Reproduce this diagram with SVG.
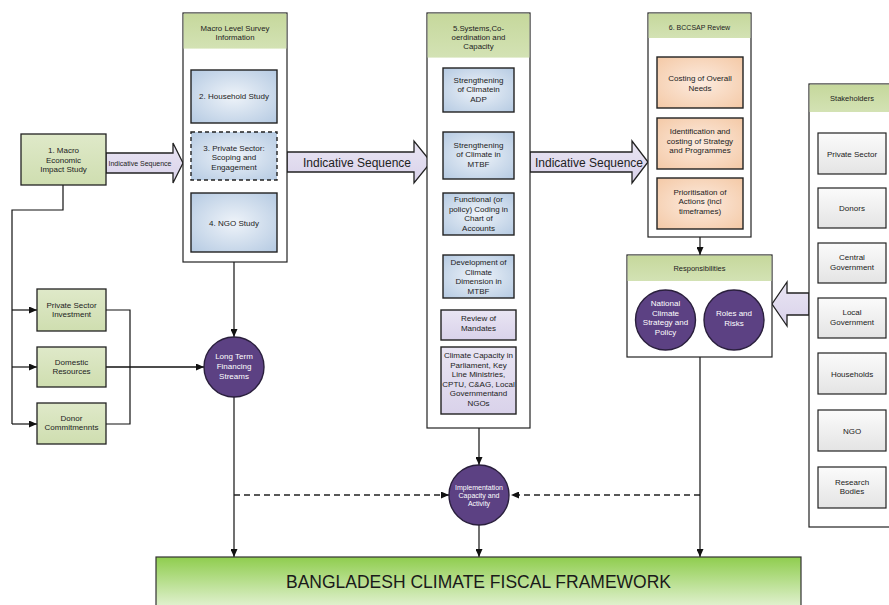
<svg xmlns="http://www.w3.org/2000/svg" width="889" height="605" viewBox="0 0 889 605">
<defs>
<linearGradient id="gGreen" x1="0" y1="0" x2="0" y2="1"><stop offset="0" stop-color="#dfe9c9"/><stop offset="1" stop-color="#cfdeb0"/></linearGradient>
<linearGradient id="gHead" x1="0" y1="0" x2="0" y2="1"><stop offset="0" stop-color="#c6d89c"/><stop offset="1" stop-color="#d3e2b4"/></linearGradient>
<radialGradient id="gBlue" cx="0.5" cy="0.5" r="0.7"><stop offset="0" stop-color="#eef3f9"/><stop offset="1" stop-color="#b5cae2"/></radialGradient>
<radialGradient id="gOrange" cx="0.5" cy="0.5" r="0.7"><stop offset="0" stop-color="#fcebdf"/><stop offset="1" stop-color="#f4c9a6"/></radialGradient>
<linearGradient id="gLav" x1="0" y1="0" x2="0" y2="1"><stop offset="0" stop-color="#e9e5f3"/><stop offset="1" stop-color="#d9d2ea"/></linearGradient>
<linearGradient id="gGrey" x1="0" y1="0" x2="0" y2="1"><stop offset="0" stop-color="#fbfbfb"/><stop offset="1" stop-color="#e4e4e4"/></linearGradient>
<linearGradient id="gMain" x1="0" y1="0" x2="0" y2="1"><stop offset="0" stop-color="#8fcd4e"/><stop offset="1" stop-color="#eaf5de"/></linearGradient>
<marker id="ah" viewBox="0 0 8 7" refX="8" refY="3.5" markerWidth="8" markerHeight="7" markerUnits="userSpaceOnUse" orient="auto-start-reverse"><path d="M0,0 L8,3.5 L0,7 z" fill="#111"/></marker>
</defs>
<style>
text{font-family:"Liberation Sans",Arial,sans-serif;fill:#222;text-anchor:middle}
.t{font-size:8px}
.ts{font-size:7px}
.th{font-size:7.8px}
.w{fill:#fff}
.outer{fill:#fff;stroke:#222;stroke-width:1.2}
.band{fill:url(#gHead)}
.gbox{fill:url(#gGreen);stroke:#222;stroke-width:1.3}
.bbox{fill:url(#gBlue);stroke:#222;stroke-width:1.4}
.obox{fill:url(#gOrange);stroke:#222;stroke-width:1.4}
.lbox{fill:url(#gLav);stroke:#222;stroke-width:1.4}
.sbox{fill:url(#gGrey);stroke:#222;stroke-width:1.2}
.circ{fill:#5c4183;stroke:#2a1f3d;stroke-width:1.4}
.arw{fill:url(#gLav);stroke:#222;stroke-width:1.3}
.ln{fill:none;stroke:#111;stroke-width:1.2}
.dl{fill:none;stroke:#222;stroke-width:1.4;stroke-dasharray:6,4}
</style>

<g id="connectors">
<polyline class="ln" points="63,185 63,210 12,210 12,424"/>
<line class="ln" x1="12" y1="310" x2="37" y2="310" marker-end="url(#ah)"/>
<line class="ln" x1="12" y1="367" x2="37" y2="367" marker-end="url(#ah)"/>
<line class="ln" x1="12" y1="424" x2="37" y2="424" marker-end="url(#ah)"/>
<polyline class="ln" points="106,310 130,310 130,424 106,424"/>
<line class="ln" x1="106" y1="367" x2="204" y2="367" marker-end="url(#ah)" style="stroke-width:1.6"/>
<line class="ln" x1="234" y1="262" x2="234" y2="337" marker-end="url(#ah)"/>
<line class="ln" x1="234" y1="397" x2="234" y2="557" marker-end="url(#ah)"/>
<line class="dl" x1="234" y1="495" x2="449" y2="495" marker-end="url(#ah)"/>
<line class="dl" x1="700" y1="495" x2="511" y2="495" marker-end="url(#ah)"/>
<line class="ln" x1="479" y1="428" x2="479" y2="465" marker-end="url(#ah)"/>
<line class="ln" x1="479" y1="525" x2="479" y2="557" marker-end="url(#ah)"/>
<line class="ln" x1="700" y1="237" x2="700" y2="255" marker-end="url(#ah)"/>
<line class="ln" x1="700" y1="357" x2="700" y2="557" marker-end="url(#ah)"/>
<line class="ln" x1="479" y1="112" x2="479" y2="132" marker-start="url(#ah)" marker-end="url(#ah)" style="stroke-width:1.6"/>
<line class="ln" x1="479" y1="235" x2="479" y2="255" marker-start="url(#ah)" marker-end="url(#ah)" style="stroke-width:1.6"/>
</g>

<g id="arrow1">
<path class="arw" d="M106,153 H173 V143 L183,163 L173,183 V173 H106 Z"/>
<text class="ts" x="140" y="165.5">Indicative Sequence</text>
</g>
<g id="arrow2">
<path class="arw" d="M287,152 H414 V141 L431,162 L414,183 V172 H287 Z"/>
<text x="357" y="166.5" style="font-size:12px">Indicative Sequence</text>
</g>
<g id="arrow3">
<path class="arw" d="M530,152 H632 V141 L648,162 L632,183 V172 H530 Z"/>
<text x="589" y="166.5" style="font-size:12px">Indicative Sequence</text>
</g>
<g id="arrow4">
<path class="arw" d="M809,293 H787 V282 L772,304 L787,326 V315 H809 Z"/>
</g>

<g id="macro">
<rect class="gbox" x="21" y="134" width="85" height="51"/>
<text class="t" x="63.5" y="153">1. Macro</text>
<text class="t" x="63.5" y="162.5">Economic</text>
<text class="t" x="63.5" y="172">Impact Study</text>
</g>

<g id="private-investment">
<rect class="gbox" x="37" y="289" width="69" height="42"/>
<text class="t" x="71.5" y="307.5">Private Sector</text>
<text class="t" x="71.5" y="317">Investment</text>
</g>
<g id="domestic">
<rect class="gbox" x="37" y="347" width="69" height="40"/>
<text class="t" x="71.5" y="364.5">Domestic</text>
<text class="t" x="71.5" y="374">Resources</text>
</g>
<g id="donor">
<rect class="gbox" x="37" y="403" width="69" height="41"/>
<text class="t" x="71.5" y="420.5">Donor</text>
<text class="t" x="71.5" y="430">Commitmennts</text>
</g>

<g id="long-term">
<circle class="circ" cx="234" cy="367" r="30"/>
<text class="t w" x="234" y="359">Long Term</text>
<text class="t w" x="234" y="369">Financing</text>
<text class="t w" x="234" y="379">Streams</text>
</g>

<g id="macro-level">
<rect class="outer" x="183" y="13" width="104" height="249"/>
<rect class="band" x="183.6" y="13.6" width="102.8" height="35"/>
<text class="th" x="235" y="30.5">Macro Level Survey</text>
<text class="th" x="235" y="39.5">Information</text>
<rect class="bbox" x="191" y="70" width="86" height="53"/>
<text class="t" x="234" y="99">2. Household Study</text>
<rect class="bbox" x="191" y="132" width="86" height="48" style="stroke-dasharray:4,3"/>
<text class="t" x="234" y="150.5">3. Private Sector:</text>
<text class="t" x="234" y="160">Scoping and</text>
<text class="t" x="234" y="169.5">Engagement</text>
<rect class="bbox" x="191" y="193" width="86" height="59"/>
<text class="t" x="234" y="225.5">4. NGO Study</text>
</g>

<g id="systems">
<rect class="outer" x="427" y="13" width="103" height="415"/>
<rect class="band" x="427.6" y="13.6" width="101.8" height="44"/>
<text class="th" x="478.5" y="31">5.Systems,Co-</text>
<text class="th" x="478.5" y="40">oerdination and</text>
<text class="th" x="478.5" y="49">Capacity</text>
<rect class="bbox" x="443" y="68" width="71" height="44"/>
<text class="t" x="478.5" y="82.5">Strengthening</text>
<text class="t" x="478.5" y="92">of Climatein</text>
<text class="t" x="478.5" y="101.5">ADP</text>
<rect class="bbox" x="443" y="132" width="71" height="47"/>
<text class="t" x="478.5" y="147.5">Strengthening</text>
<text class="t" x="478.5" y="157">of Climate in</text>
<text class="t" x="478.5" y="166.5">MTBF</text>
<rect class="bbox" x="443" y="193" width="71" height="42"/>
<text class="t" x="478.5" y="202">Functional (or</text>
<text class="t" x="478.5" y="211.5">policy) Coding in</text>
<text class="t" x="478.5" y="221">Chart of</text>
<text class="t" x="478.5" y="230.5">Accounts</text>
<rect class="bbox" x="443" y="255" width="71" height="43"/>
<text class="t" x="478.5" y="265">Development of</text>
<text class="t" x="478.5" y="274.5">Climate</text>
<text class="t" x="478.5" y="284">Dimension in</text>
<text class="t" x="478.5" y="293.5">MTBF</text>
<rect class="lbox" x="441" y="310" width="75" height="30"/>
<text class="t" x="478.5" y="321">Review of</text>
<text class="t" x="478.5" y="330.5">Mandates</text>
<rect class="lbox" x="441" y="347" width="75" height="67"/>
<text class="t" x="478.5" y="358">Climate Capacity in</text>
<text class="t" x="478.5" y="367.5">Parliament, Key</text>
<text class="t" x="478.5" y="377">Line Ministries,</text>
<text class="t" x="478.5" y="386.5">CPTU, C&amp;AG, Local</text>
<text class="t" x="478.5" y="396">Governmentand</text>
<text class="t" x="478.5" y="405.5">NGOs</text>
</g>

<g id="bccsap">
<rect class="outer" x="648" y="13" width="103" height="224"/>
<rect class="band" x="648.6" y="13.6" width="101.8" height="24.4"/>
<text class="ts" x="699.5" y="30">6. BCCSAP Review</text>
<rect class="obox" x="657" y="57" width="86" height="51"/>
<text class="t" x="700" y="81">Costing of Overall</text>
<text class="t" x="700" y="90.5">Needs</text>
<rect class="obox" x="657" y="118" width="86" height="51"/>
<text class="t" x="700" y="134">Identification and</text>
<text class="t" x="700" y="143.5">costing of Strategy</text>
<text class="t" x="700" y="153">and Programmes</text>
<rect class="obox" x="657" y="178" width="86" height="51"/>
<text class="t" x="700" y="194.5">Prioritisation of</text>
<text class="t" x="700" y="204">Actions (incl</text>
<text class="t" x="700" y="213.5">timeframes)</text>
</g>

<g id="responsibilities">
<rect class="outer" x="627" y="255" width="145" height="102"/>
<rect class="band" x="627.6" y="255.6" width="143.8" height="25.4"/>
<text x="699.5" y="270.5" style="font-size:7.5px">Responsibilities</text>
<circle class="circ" cx="665.5" cy="320" r="30"/>
<text class="t w" x="665.5" y="306">National</text>
<text class="t w" x="665.5" y="315.5">Climate</text>
<text class="t w" x="665.5" y="325">Strategy and</text>
<text class="t w" x="665.5" y="334.5">Policy</text>
<circle class="circ" cx="734" cy="320" r="30"/>
<text class="t w" x="734" y="316">Roles and</text>
<text class="t w" x="734" y="325.5">Risks</text>
</g>

<g id="stakeholders">
<rect class="outer" x="809" y="84" width="90" height="443"/>
<rect class="band" x="809.6" y="84.6" width="89" height="27.4"/>
<text x="852" y="100.5" style="font-size:7.5px">Stakeholders</text>
<rect class="sbox" x="818" y="133" width="68" height="41"/>
<text class="t" x="852" y="156.5">Private Sector</text>
<rect class="sbox" x="818" y="188" width="68" height="40"/>
<text class="t" x="852" y="211">Donors</text>
<rect class="sbox" x="818" y="243" width="68" height="40"/>
<text class="t" x="852" y="260">Central</text>
<text class="t" x="852" y="269.5">Government</text>
<rect class="sbox" x="818" y="298" width="68" height="40"/>
<text class="t" x="852" y="315">Local</text>
<text class="t" x="852" y="324.5">Government</text>
<rect class="sbox" x="818" y="353" width="68" height="41"/>
<text class="t" x="852" y="376.5">Households</text>
<rect class="sbox" x="818" y="410" width="68" height="41"/>
<text class="t" x="852" y="433.5">NGO</text>
<rect class="sbox" x="818" y="467" width="68" height="41"/>
<text class="t" x="852" y="484.5">Research</text>
<text class="t" x="852" y="494">Bodies</text>
</g>

<g id="implementation">
<circle class="circ" cx="479" cy="495" r="30"/>
<text class="ts w" x="479" y="489.5">Implementation</text>
<text class="ts w" x="479" y="497.5">Capacity and</text>
<text class="ts w" x="479" y="505.5">Activity</text>
</g>

<g id="bccff">
<rect x="156" y="557" width="645" height="55" fill="url(#gMain)" stroke="#333" stroke-width="1.2"/>
<text x="478.5" y="588" style="font-size:17.5px;fill:#1a1a1a">BANGLADESH CLIMATE FISCAL FRAMEWORK</text>
</g>
</svg>
